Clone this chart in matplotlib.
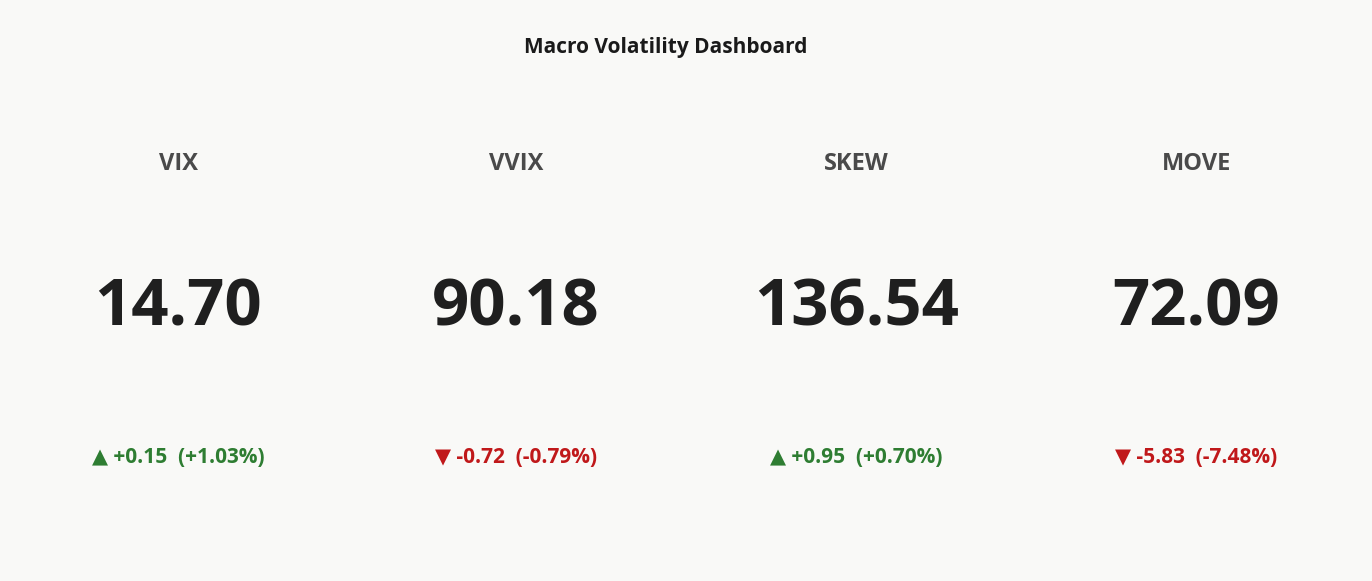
import matplotlib
matplotlib.use("Agg")
import matplotlib.pyplot as plt

title = "Macro Volatility Dashboard"
names = ["VIX", "VVIX", "SKEW", "MOVE"]
values = [14.70, 90.18, 136.54, 72.09]
changes = [0.15, -0.72, 0.95, -5.83]
pct = [1.03, -0.79, 0.70, -7.48]

fig = plt.figure(figsize=(13.72, 5.81), dpi=100)
fig.patch.set_facecolor("#f9f9f7")
fam = ["Open Sans", "DejaVu Sans"]
fig.text(0.485, 0.919, title, ha="center", va="center", fontsize=15, fontweight="bold", color="#1a1a1a", family=fam)
xs = [0.130, 0.376, 0.624, 0.872]
for x, n, v, c, p in zip(xs, names, values, changes, pct):
    fig.text(x, 0.717, n, ha="center", va="center", fontsize=17, fontweight="bold", color="#4a4a4a", family=fam)
    fig.text(x, 0.468, f"{v:.2f}", ha="center", va="center", fontsize=47, fontweight="bold", color="#1f1f1f", family=fam)
    up = c >= 0
    col = "#2e7d32" if up else "#c0181a"
    tri = "▲" if up else "▼"
    fig.text(x, 0.213, f"{tri} {c:+.2f}  ({p:+.2f}%)", ha="center", va="center", fontsize=15, fontweight="bold", color=col, family=fam)
fig.savefig("out.png", dpi=100, facecolor=fig.get_facecolor())
